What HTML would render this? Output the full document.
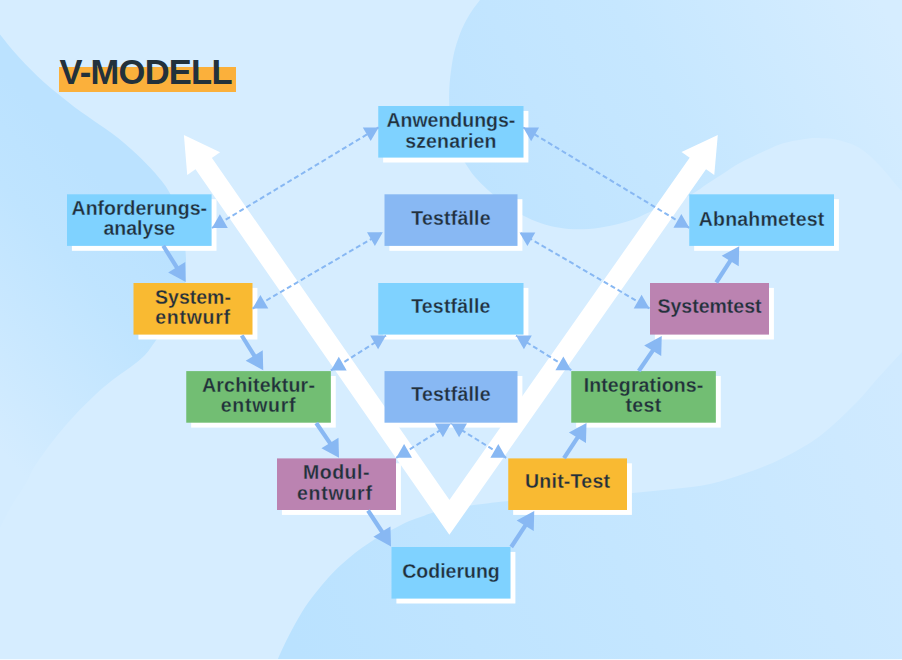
<!DOCTYPE html>
<html lang="de"><head><meta charset="utf-8"><title>V-Modell</title>
<style>
html,body{margin:0;padding:0;}
body{width:902px;height:660px;overflow:hidden;position:relative;background:#d6edff;font-family:"Liberation Sans",sans-serif;}
svg{position:absolute;left:0;top:0;display:block;}
.b{position:absolute;box-sizing:border-box;text-align:center;color:#22313b;font-weight:bold;font-size:19.5px;line-height:20.3px;white-space:nowrap;}
.b.one{padding-top:13.8px;}
.b.two{padding-top:3.9px;}
h1{position:absolute;margin:0;left:59.5px;top:52.6px;font-size:34.5px;line-height:38px;letter-spacing:-0.75px;font-weight:bold;color:#22313b;white-space:nowrap;}
.hl{position:absolute;left:59px;top:66.8px;width:177.3px;height:24.9px;background:#fbb03b;}
.edge{position:absolute;left:0;top:659px;width:902px;height:1px;background:#f4faff;}
</style></head><body>
<svg width="902" height="660" viewBox="0 0 902 660">
<defs>
<linearGradient id="g1" gradientUnits="userSpaceOnUse" x1="190" y1="280" x2="0" y2="450"><stop offset="0" stop-color="#bbe2ff"/><stop offset="0.3" stop-color="#bfe4ff"/><stop offset="1" stop-color="#d4ecff"/></linearGradient>
<linearGradient id="g2" gradientUnits="userSpaceOnUse" x1="470" y1="220" x2="880" y2="0"><stop offset="0" stop-color="#bde3ff"/><stop offset="0.25" stop-color="#c2e5ff"/><stop offset="0.5" stop-color="#c6e7ff"/><stop offset="1" stop-color="#d6edff"/></linearGradient>
<linearGradient id="g3" gradientUnits="userSpaceOnUse" x1="300" y1="660" x2="902" y2="380"><stop offset="0" stop-color="#bae2ff"/><stop offset="0.5" stop-color="#c4e6ff"/><stop offset="1" stop-color="#d0eaff"/></linearGradient>
</defs>
<rect width="902" height="660" fill="#d6edff"/>
<path d="M-6.0,28.0 C-5.0,29.1 -3.1,30.8 0.0,34.5 C3.1,38.2 8.3,45.1 12.5,50.0 C16.7,54.9 20.8,59.4 25.0,63.8 C29.2,68.1 33.3,72.3 37.5,76.2 C41.7,80.2 45.8,84.0 50.0,87.5 C54.2,91.0 58.3,94.2 62.5,97.5 C66.7,100.8 70.8,104.4 75.0,107.5 C79.2,110.6 83.3,113.3 87.5,116.2 C91.7,119.2 95.8,122.1 100.0,125.0 C104.2,127.9 108.3,130.6 112.5,133.8 C116.7,136.9 120.8,140.2 125.0,143.8 C129.2,147.3 133.3,151.0 137.5,155.0 C141.7,159.0 146.2,163.5 150.0,167.5 C153.8,171.5 157.0,175.2 160.0,179.0 C163.0,182.8 165.0,184.8 168.0,190.0 C171.0,195.2 175.5,203.3 178.0,210.0 C180.5,216.7 181.8,223.2 183.0,230.0 C184.2,236.8 185.0,244.3 185.5,251.0 C186.0,257.7 186.2,263.5 186.0,270.0 C185.8,276.5 185.7,282.5 184.0,290.0 C182.3,297.5 180.6,306.7 176.0,315.0 C171.4,323.3 161.4,333.3 156.2,340.0 C151.1,346.7 149.4,350.4 145.0,355.0 C140.6,359.6 135.4,363.3 130.0,367.5 C124.6,371.7 118.3,375.4 112.5,380.0 C106.7,384.6 101.2,389.2 95.0,395.0 C88.8,400.8 81.2,408.3 75.0,415.0 C68.8,421.7 62.9,428.3 57.5,435.0 C52.1,441.7 46.7,449.2 42.5,455.0 C38.3,460.8 35.4,465.0 32.5,470.0 C29.6,475.0 28.4,479.2 25.0,485.0 C21.6,490.8 16.2,497.8 12.0,505.0 C7.8,512.2 3.0,522.2 0.0,528.0 C-3.0,533.8 -5.0,538.0 -6.0,540.0 Z" fill="url(#g1)"/>
<path d="M486.0,-8.0 C485.0,-6.7 482.4,-3.1 480.0,0.0 C477.6,3.1 474.4,7.0 471.8,10.9 C469.2,14.8 466.6,19.4 464.5,23.6 C462.4,27.9 460.7,31.8 459.0,36.4 C457.3,40.9 455.8,45.8 454.5,50.9 C453.2,56.0 452.3,61.8 451.5,67.3 C450.7,72.8 450.0,78.1 449.6,83.6 C449.2,89.0 449.0,94.3 449.1,100.0 C449.2,105.7 449.4,111.7 450.0,118.0 C450.6,124.3 451.7,132.3 453.0,138.0 C454.3,143.7 455.9,147.8 458.0,152.0 C460.1,156.2 462.5,159.2 465.3,163.3 C468.1,167.4 470.8,172.2 474.6,176.6 C478.4,181.0 483.0,185.5 487.9,189.9 C492.8,194.3 498.1,199.0 503.9,203.2 C509.7,207.4 516.3,211.9 522.5,215.2 C528.7,218.5 534.8,221.1 541.0,223.2 C547.2,225.3 553.5,226.7 559.7,227.7 C565.9,228.7 571.7,229.3 578.4,229.3 C585.1,229.3 592.6,228.7 599.7,227.7 C606.8,226.7 614.8,224.8 621.0,223.2 C627.2,221.6 632.1,219.8 637.0,217.9 C641.9,216.0 644.4,214.2 650.2,211.7 C656.0,209.2 664.9,206.0 672.0,203.0 C679.1,200.0 687.2,196.7 693.0,193.5 C698.8,190.3 702.3,187.1 707.0,184.0 C711.7,180.9 716.0,178.2 721.0,175.0 C726.0,171.8 731.8,167.5 737.0,164.5 C742.2,161.5 746.8,159.5 752.0,157.0 C757.2,154.5 762.7,151.8 768.0,149.5 C773.3,147.2 777.4,144.8 784.0,143.0 C790.6,141.2 801.2,139.5 807.5,138.7 C813.8,137.9 816.9,138.1 821.6,138.2 C826.3,138.3 830.2,138.2 835.7,139.4 C841.2,140.6 849.0,142.8 854.5,145.3 C860.0,147.9 863.9,150.8 868.6,154.7 C873.3,158.6 878.4,164.1 882.7,168.8 C887.0,173.5 891.3,179.2 894.5,182.9 C897.7,186.6 899.4,188.2 902.0,191.0 C904.6,193.8 908.7,198.5 910.0,200.0 L910,-8 Z" fill="url(#g2)"/>
<path d="M275.0,668.0 C275.5,666.5 275.7,664.0 278.0,658.7 C280.3,653.4 284.7,643.8 288.7,636.0 C292.7,628.2 297.6,619.1 302.0,612.0 C306.4,604.9 310.9,599.1 315.3,593.3 C319.8,587.5 324.2,582.2 328.7,577.3 C333.1,572.4 337.6,568.1 342.0,564.0 C346.4,559.9 350.9,556.3 355.3,552.8 C359.8,549.3 364.2,546.2 368.7,543.2 C373.1,540.2 377.6,537.2 382.0,534.7 C386.4,532.2 390.9,530.2 395.3,528.0 C399.8,525.8 404.2,523.2 408.7,521.3 C413.1,519.4 417.6,518.0 422.0,516.5 C426.4,515.0 428.6,513.6 435.3,512.0 C442.0,510.4 453.1,508.2 462.0,506.7 C470.9,505.2 480.7,504.1 488.7,503.2 C496.7,502.2 499.6,501.9 510.0,501.0 C520.4,500.1 537.3,498.8 551.0,498.0 C564.7,497.2 578.3,496.8 592.0,496.0 C605.7,495.2 619.5,494.2 633.0,493.0 C646.5,491.8 660.2,490.5 673.0,489.0 C685.8,487.5 697.8,486.7 710.0,484.0 C722.2,481.3 733.8,477.3 746.0,473.0 C758.2,468.7 770.7,464.2 783.0,458.0 C795.3,451.8 807.8,445.2 820.0,436.0 C832.2,426.8 846.3,412.7 856.0,403.0 C865.7,393.3 870.3,386.5 878.0,378.0 C885.7,369.5 896.7,357.8 902.0,352.0 C907.3,346.2 908.7,344.5 910.0,343.0 L910,668 Z" fill="url(#g3)"/>
<polyline points="202.52,161.91 449.40,517.40 699.04,161.81" fill="none" stroke="#fff" stroke-width="20" stroke-linejoin="miter" stroke-miterlimit="10"/><polygon points="183.90,135.10 220.09,152.14 187.23,174.96" fill="#fff"/><polygon points="717.80,135.10 714.26,174.94 681.53,151.96" fill="#fff"/><rect x="383.15" y="110.90" width="145.25" height="51.60" fill="#fff"/><rect x="389.40" y="199.20" width="133.00" height="51.60" fill="#fff"/><rect x="383.15" y="287.90" width="145.25" height="51.60" fill="#fff"/><rect x="389.40" y="376.00" width="133.00" height="51.60" fill="#fff"/><rect x="71.90" y="199.20" width="144.60" height="51.60" fill="#fff"/><rect x="138.40" y="287.90" width="119.00" height="51.60" fill="#fff"/><rect x="191.15" y="376.00" width="144.60" height="51.60" fill="#fff"/><rect x="281.90" y="463.30" width="119.00" height="51.60" fill="#fff"/><rect x="396.40" y="551.90" width="119.00" height="51.60" fill="#fff"/><rect x="513.15" y="463.30" width="118.75" height="51.60" fill="#fff"/><rect x="576.15" y="376.00" width="144.60" height="51.60" fill="#fff"/><rect x="654.90" y="287.90" width="119.00" height="51.60" fill="#fff"/><rect x="694.15" y="199.20" width="144.75" height="51.60" fill="#fff"/><rect x="378.25" y="106.00" width="145.25" height="51.60" fill="#7fd2ff"/><rect x="384.50" y="194.30" width="133.00" height="51.60" fill="#88b8f3"/><rect x="378.25" y="283.00" width="145.25" height="51.60" fill="#7fd2ff"/><rect x="384.50" y="371.10" width="133.00" height="51.60" fill="#88b8f3"/><rect x="67.00" y="194.30" width="144.60" height="51.60" fill="#7fd2ff"/><rect x="133.50" y="283.00" width="119.00" height="51.60" fill="#f9ba32"/><rect x="186.25" y="371.10" width="144.60" height="51.60" fill="#72be73"/><rect x="277.00" y="458.40" width="119.00" height="51.60" fill="#bb83b1"/><rect x="391.50" y="547.00" width="119.00" height="51.60" fill="#7fd2ff"/><rect x="508.25" y="458.40" width="118.75" height="51.60" fill="#f9ba32"/><rect x="571.25" y="371.10" width="144.60" height="51.60" fill="#72be73"/><rect x="650.00" y="283.00" width="119.00" height="51.60" fill="#bb83b1"/><rect x="689.25" y="194.30" width="144.75" height="51.60" fill="#7fd2ff"/></svg>
<div class="hl"></div><h1>V-MODELL</h1>
<div class="b two" id="anw" style="left:378.25px;top:106.00px;width:145.25px;height:51.60px;padding-top:4.3px;-webkit-text-stroke:0.3px #7fd2ff"><span>Anwendungs-</span><br><span style="letter-spacing:0.16px">szenarien</span></div>
<div class="b one" id="tf1" style="left:384.50px;top:194.30px;width:133.00px;height:51.60px;-webkit-text-stroke:0.3px #88b8f3"><span style="letter-spacing:0.20px">Testfälle</span></div>
<div class="b one" id="tf2" style="left:378.25px;top:283.00px;width:145.25px;height:51.60px;padding-top:13.0px;-webkit-text-stroke:0.3px #7fd2ff"><span style="letter-spacing:0.20px">Testfälle</span></div>
<div class="b one" id="tf3" style="left:384.50px;top:371.10px;width:133.00px;height:51.60px;padding-top:13.1px;-webkit-text-stroke:0.3px #88b8f3"><span style="letter-spacing:0.20px">Testfälle</span></div>
<div class="b two" id="anf" style="left:67.00px;top:194.30px;width:144.60px;height:51.60px;-webkit-text-stroke:0.3px #7fd2ff"><span>Anforderungs-</span><br><span>analyse</span></div>
<div class="b two" id="sye" style="left:133.50px;top:283.00px;width:119.00px;height:51.60px;-webkit-text-stroke:0.3px #f9ba32"><span>System-</span><br><span style="letter-spacing:0.75px">entwurf</span></div>
<div class="b two" id="arc" style="left:186.25px;top:371.10px;width:144.60px;height:51.60px;-webkit-text-stroke:0.3px #72be73"><span style="letter-spacing:0.22px">Architektur-</span><br><span style="letter-spacing:0.75px">entwurf</span></div>
<div class="b two" id="mod" style="left:277.00px;top:458.40px;width:119.00px;height:51.60px;-webkit-text-stroke:0.3px #bb83b1"><span style="letter-spacing:0.50px">Modul-</span><br><span style="letter-spacing:0.75px;position:relative;left:-1.7px">entwurf</span></div>
<div class="b one" id="cod" style="left:391.50px;top:547.00px;width:119.00px;height:51.60px;padding-top:14.1px;-webkit-text-stroke:0.3px #7fd2ff"><span>Codierung</span></div>
<div class="b one" id="uni" style="left:508.25px;top:458.40px;width:118.75px;height:51.60px;padding-top:12.7px;-webkit-text-stroke:0.3px #f9ba32"><span style="letter-spacing:0.25px">Unit-Test</span></div>
<div class="b two" id="int" style="left:571.25px;top:371.10px;width:144.60px;height:51.60px;-webkit-text-stroke:0.3px #72be73"><span style="letter-spacing:0.13px">Integrations-</span><br><span style="letter-spacing:0.35px">test</span></div>
<div class="b one" id="syt" style="left:650.00px;top:283.00px;width:119.00px;height:51.60px;padding-top:13.0px;-webkit-text-stroke:0.3px #bb83b1"><span>Systemtest</span></div>
<div class="b one" id="abn" style="left:689.25px;top:194.30px;width:144.75px;height:51.60px;padding-top:14.4px;-webkit-text-stroke:0.3px #7fd2ff"><span style="letter-spacing:0.20px">Abnahmetest</span></div>
<svg width="902" height="660" viewBox="0 0 902 660"><line x1="212.00" y1="228.00" x2="378.60" y2="127.40" stroke="#88b8f3" stroke-width="2" stroke-dasharray="5 3"/><polygon points="212.00,228.00 219.90,214.32 227.80,228.00" fill="#88b8f3"/><polygon points="378.60,127.40 370.70,141.08 362.80,127.40" fill="#88b8f3"/><line x1="252.50" y1="308.60" x2="382.80" y2="232.20" stroke="#88b8f3" stroke-width="2" stroke-dasharray="5 3"/><polygon points="252.50,308.60 260.40,294.92 268.30,308.60" fill="#88b8f3"/><polygon points="382.80,232.20 374.90,245.88 367.00,232.20" fill="#88b8f3"/><line x1="330.90" y1="370.40" x2="386.00" y2="335.60" stroke="#88b8f3" stroke-width="2" stroke-dasharray="5 3"/><polygon points="330.90,370.40 338.80,356.72 346.70,370.40" fill="#88b8f3"/><polygon points="386.00,335.60 378.10,349.28 370.20,335.60" fill="#88b8f3"/><line x1="396.20" y1="457.80" x2="450.80" y2="423.60" stroke="#88b8f3" stroke-width="2" stroke-dasharray="5 3"/><polygon points="396.20,457.80 404.10,444.12 412.00,457.80" fill="#88b8f3"/><polygon points="450.80,423.60 442.90,437.28 435.00,423.60" fill="#88b8f3"/><line x1="506.20" y1="457.80" x2="451.20" y2="423.60" stroke="#88b8f3" stroke-width="2" stroke-dasharray="5 3"/><polygon points="506.20,457.80 490.40,457.80 498.30,444.12" fill="#88b8f3"/><polygon points="451.20,423.60 467.00,423.60 459.10,437.28" fill="#88b8f3"/><line x1="571.25" y1="370.20" x2="516.00" y2="335.60" stroke="#88b8f3" stroke-width="2" stroke-dasharray="5 3"/><polygon points="571.25,370.20 555.45,370.20 563.35,356.52" fill="#88b8f3"/><polygon points="516.00,335.60 531.80,335.60 523.90,349.28" fill="#88b8f3"/><line x1="649.50" y1="308.40" x2="519.50" y2="232.40" stroke="#88b8f3" stroke-width="2" stroke-dasharray="5 3"/><polygon points="649.50,308.40 633.70,308.40 641.60,294.72" fill="#88b8f3"/><polygon points="519.50,232.40 535.30,232.40 527.40,246.08" fill="#88b8f3"/><line x1="689.25" y1="227.80" x2="523.25" y2="127.50" stroke="#88b8f3" stroke-width="2" stroke-dasharray="5 3"/><polygon points="689.25,227.80 673.45,227.80 681.35,214.12" fill="#88b8f3"/><polygon points="523.25,127.50 539.05,127.50 531.15,141.18" fill="#88b8f3"/><line x1="163.25" y1="245.75" x2="177.23" y2="268.08" stroke="#88b8f3" stroke-width="4.2"/><polygon points="185.75,282.00 168.17,272.46 185.23,262.01" fill="#88b8f3"/><line x1="241.75" y1="335.50" x2="254.73" y2="356.38" stroke="#88b8f3" stroke-width="4.2"/><polygon points="263.25,370.30 245.67,360.76 262.73,350.31" fill="#88b8f3"/><line x1="316.25" y1="423.00" x2="330.50" y2="443.87" stroke="#88b8f3" stroke-width="4.2"/><polygon points="339.00,457.80 321.42,448.26 338.48,437.81" fill="#88b8f3"/><line x1="368.00" y1="510.50" x2="382.49" y2="532.47" stroke="#88b8f3" stroke-width="4.2"/><polygon points="391.00,546.40 373.42,536.86 390.48,526.41" fill="#88b8f3"/><line x1="511.25" y1="547.00" x2="525.74" y2="524.93" stroke="#88b8f3" stroke-width="4.2"/><polygon points="534.25,511.00 533.73,530.99 516.67,520.54" fill="#88b8f3"/><line x1="564.00" y1="458.20" x2="577.99" y2="436.93" stroke="#88b8f3" stroke-width="4.2"/><polygon points="586.50,423.00 585.98,442.99 568.92,432.54" fill="#88b8f3"/><line x1="638.75" y1="371.00" x2="653.25" y2="349.93" stroke="#88b8f3" stroke-width="4.2"/><polygon points="661.75,336.00 661.23,355.99 644.17,345.54" fill="#88b8f3"/><line x1="716.25" y1="282.50" x2="730.74" y2="260.22" stroke="#88b8f3" stroke-width="4.2"/><polygon points="739.25,246.30 738.73,266.29 721.67,255.84" fill="#88b8f3"/></svg>
<div class="edge"></div>
</body></html>
